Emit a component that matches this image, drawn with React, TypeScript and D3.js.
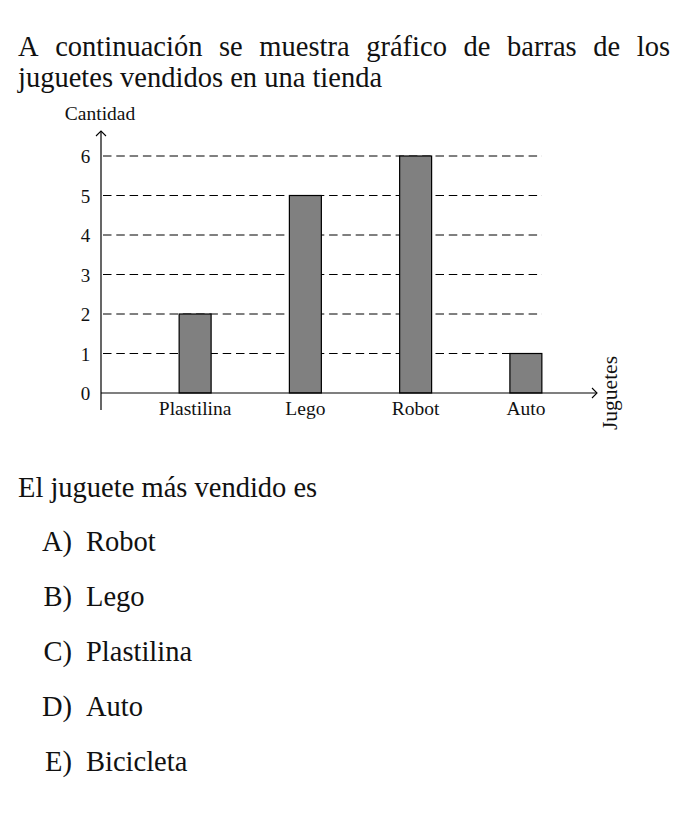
import React, { useEffect, useRef } from "react";
import * as d3 from "d3";

const categories = ["Plastilina", "Lego", "Robot", "Auto"];
const values = [2, 5, 6, 1];
const yTicks = [0, 1, 2, 3, 4, 5, 6];
const introLine1 = "A continuación se muestra gráfico de barras de los";
const introLine2 = "juguetes vendidos en una tienda";
const question = "El juguete más vendido es";
const optionLetters = ["A)", "B)", "C)", "D)", "E)"];
const optionTexts = ["Robot", "Lego", "Plastilina", "Auto", "Bicicleta"];
const yLabel = "Cantidad";
const xLabel = "Juguetes";

const FONT = "'Liberation Serif', 'Times New Roman', serif";

export default function App() {
  const ref = useRef<SVGSVGElement | null>(null);

  useEffect(() => {
    const svg = d3.select(ref.current);
    svg.selectAll("*").remove();
    svg.attr("font-family", FONT);

    // Intro paragraph, first line justified
    const bigSize = 28.5;
    const words = introLine1.split(" ");
    const wg = svg.append("g");
    const wNodes = words.map((w) =>
      wg.append("text").attr("y", 56).attr("font-size", bigSize).attr("fill", "#111").text(w)
    );
    const widths = wNodes.map((n) => (n.node() as SVGTextElement).getComputedTextLength());
    const left = 18, right = 670;
    const gap = (right - left - d3.sum(widths)) / (words.length - 1);
    let cx = left;
    wNodes.forEach((n, i) => {
      n.attr("x", cx);
      cx += widths[i] + gap;
    });
    svg.append("text").attr("x", left).attr("y", 87).attr("font-size", bigSize).attr("fill", "#111").text(introLine2);

    // Chart
    const x0 = 101, yBase = 393;
    const x = d3.scaleBand<string>().domain(categories).range([140, 581]).paddingInner(0.71).paddingOuter(0.355);
    const y = d3.scaleLinear().domain([0, 6]).range([yBase, 156]);

    const g = svg.append("g");
    // gridlines
    g.selectAll("line.grid")
      .data(yTicks.filter((t) => t > 0))
      .join("line")
      .attr("x1", x0 + 2)
      .attr("x2", 542)
      .attr("y1", (d) => y(d))
      .attr("y2", (d) => y(d))
      .attr("stroke", "#000")
      .attr("stroke-width", 1)
      .attr("stroke-dasharray", "8.5 4.8");

    // bars
    g.selectAll("rect.bar")
      .data(values)
      .join("rect")
      .attr("x", (_, i) => x(categories[i])!)
      .attr("width", x.bandwidth())
      .attr("y", (d) => y(d))
      .attr("height", (d) => y(0) - y(d))
      .attr("fill", "#808080")
      .attr("stroke", "#000")
      .attr("stroke-width", 1.2);

    // axes
    g.append("line").attr("x1", x0).attr("x2", x0).attr("y1", 410).attr("y2", 131).attr("stroke", "#000").attr("stroke-width", 1.2);
    g.append("path").attr("d", `M${x0 - 5},${136} L${x0},${131} L${x0 + 5},${136}`).attr("fill", "none").attr("stroke", "#000").attr("stroke-width", 1.1);
    g.append("line").attr("x1", x0).attr("x2", 597).attr("y1", yBase).attr("y2", yBase).attr("stroke", "#000").attr("stroke-width", 1.2);
    g.append("path").attr("d", `M${592},${yBase - 5} L${597},${yBase} L${592},${yBase + 5}`).attr("fill", "none").attr("stroke", "#000").attr("stroke-width", 1.1);

    // y tick labels
    g.selectAll("text.ytick")
      .data(yTicks)
      .join("text")
      .attr("x", 85.5)
      .attr("y", (d) => y(d) + 7)
      .attr("text-anchor", "middle")
      .attr("font-size", 19)
      .attr("fill", "#111")
      .text((d) => String(d));

    // x labels
    g.selectAll("text.xcat")
      .data(categories)
      .join("text")
      .attr("x", (d) => x(d)! + x.bandwidth() / 2)
      .attr("y", 415)
      .attr("text-anchor", "middle")
      .attr("font-size", 19.5)
      .attr("fill", "#111")
      .text((d) => d);

    g.append("text").attr("x", 100).attr("y", 120).attr("text-anchor", "middle").attr("font-size", 19.5).attr("fill", "#111").text(yLabel);
    g.append("text")
      .attr("transform", `translate(617,393) rotate(-90)`)
      .attr("text-anchor", "middle")
      .attr("font-size", 21.5)
      .attr("fill", "#111")
      .text(xLabel);

    // question
    svg.append("text").attr("x", 18).attr("y", 497).attr("font-size", bigSize).attr("fill", "#111").text(question);
    optionLetters.forEach((l, i) => {
      const yy = 551 + i * 55;
      svg.append("text").attr("x", 72).attr("y", yy).attr("text-anchor", "end").attr("font-size", bigSize).attr("fill", "#111").text(l);
      svg.append("text").attr("x", 86).attr("y", yy).attr("font-size", bigSize).attr("fill", "#111").text(optionTexts[i]);
    });
  }, []);

  return (
    <svg
      ref={ref}
      width={687}
      height={816}
      style={{ position: "absolute", left: 0, top: 0, background: "#fff" }}
    />
  );
}
